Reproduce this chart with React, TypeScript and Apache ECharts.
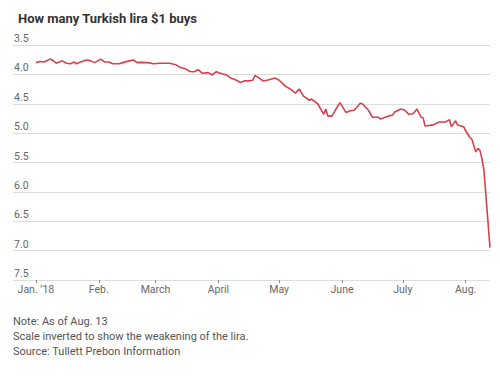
import React, { useEffect, useRef } from "react";
import * as echarts from "echarts";

const title = "How many Turkish lira $1 buys";
const notes = [
  "Note: As of Aug. 13",
  "Scale inverted to show the weakening of the lira.",
  "Source: Tullett Prebon Information",
];

const dates: string[] = [
  "2018-01-01", "2018-01-03", "2018-01-05", "2018-01-08", "2018-01-09", "2018-01-11",
  "2018-01-14", "2018-01-16", "2018-01-18", "2018-01-20", "2018-01-21", "2018-01-23",
  "2018-01-26", "2018-01-28", "2018-01-30", "2018-02-02", "2018-02-04", "2018-02-06",
  "2018-02-08", "2018-02-11", "2018-02-13", "2018-02-16", "2018-02-18", "2018-02-20",
  "2018-02-22", "2018-02-25", "2018-02-28", "2018-03-03", "2018-03-06", "2018-03-08",
  "2018-03-11", "2018-03-13", "2018-03-16", "2018-03-18", "2018-03-20", "2018-03-22",
  "2018-03-24", "2018-03-27", "2018-03-29", "2018-03-31", "2018-04-02", "2018-04-05",
  "2018-04-07", "2018-04-10", "2018-04-12", "2018-04-14", "2018-04-16", "2018-04-18",
  "2018-04-19", "2018-04-21", "2018-04-23", "2018-04-25", "2018-04-29", "2018-05-01",
  "2018-05-04", "2018-05-06", "2018-05-09", "2018-05-11", "2018-05-13", "2018-05-16",
  "2018-05-17", "2018-05-20", "2018-05-23", "2018-05-24", "2018-05-25", "2018-05-27",
  "2018-05-29", "2018-05-31", "2018-06-03", "2018-06-05", "2018-06-07", "2018-06-10",
  "2018-06-11", "2018-06-14", "2018-06-16", "2018-06-19", "2018-06-20", "2018-06-24",
  "2018-06-26", "2018-06-27", "2018-06-30", "2018-07-02", "2018-07-04", "2018-07-06",
  "2018-07-08", "2018-07-10", "2018-07-11", "2018-07-12", "2018-07-16", "2018-07-19",
  "2018-07-22", "2018-07-24", "2018-07-25", "2018-07-27", "2018-07-28", "2018-07-31",
  "2018-08-01", "2018-08-03", "2018-08-04", "2018-08-06", "2018-08-07", "2018-08-08",
  "2018-08-09", "2018-08-10", "2018-08-13",
];

const rates: number[] = [
  3.80, 3.78, 3.79, 3.74, 3.755, 3.81,
  3.77, 3.81, 3.82, 3.79, 3.82, 3.79,
  3.755, 3.77, 3.80, 3.74, 3.79, 3.79,
  3.82, 3.82, 3.80, 3.77, 3.755, 3.80,
  3.795, 3.80, 3.82, 3.81, 3.81, 3.81,
  3.835, 3.88, 3.91, 3.95, 3.955, 3.92,
  3.98, 3.97, 4.01, 3.955, 3.98, 4.01,
  4.06, 4.10, 4.14, 4.11, 4.11, 4.10,
  4.02, 4.06, 4.11, 4.10, 4.06, 4.10,
  4.20, 4.24, 4.32, 4.25, 4.37, 4.44,
  4.42, 4.50, 4.68, 4.59, 4.71, 4.71,
  4.59, 4.48, 4.65, 4.62, 4.61, 4.49,
  4.50, 4.61, 4.73, 4.73, 4.76, 4.71,
  4.69, 4.64, 4.59, 4.61, 4.68, 4.67,
  4.59, 4.73, 4.74, 4.88, 4.86, 4.81,
  4.81, 4.77, 4.89, 4.79, 4.86, 4.89,
  4.96, 5.07, 5.10, 5.32, 5.26, 5.29,
  5.43, 5.63, 6.95,
];

const monthTicks: string[] = [
  "2018-01-01", "2018-02-01", "2018-03-01", "2018-04-01",
  "2018-05-01", "2018-06-01", "2018-07-01", "2018-08-01",
];
const monthLabels: string[] = [
  "Jan. ’18", "Feb.", "March", "April", "May", "June", "July", "Aug.",
];

const yMin = 3.5;
const yMax = 7.5;
const yStep = 0.5;
const xStart = "2017-12-20";
const xEnd = "2018-08-13";

const DAY = 86400000;
const dayNum = (s: string) => {
  const [y, m, d] = s.split("-").map(Number);
  return Math.round((Date.UTC(y, m - 1, d) - Date.UTC(2018, 0, 1)) / DAY);
};

export default function App() {
  const ref = useRef<HTMLDivElement>(null);

  useEffect(() => {
    if (!ref.current) return;
    const chart = echarts.init(ref.current, undefined, { renderer: "svg" });
    const tickDays = monthTicks.map(dayNum);
    const labelMap = new Map<number, string>();
    tickDays.forEach((t, i) => labelMap.set(t, monthLabels[i]));
    const font = "Roboto, 'Noto Sans', sans-serif";

    chart.setOption({
      animation: false,
      backgroundColor: "#ffffff",
      title: {
        text: title,
        left: 13,
        top: 7,
        textStyle: { fontFamily: font, fontSize: 13, fontWeight: "bold", color: "#333333" },
      },
      grid: { left: 13, right: 10, top: 45, bottom: 97, containLabel: false },
      xAxis: {
        type: "value",
        min: dayNum(xStart) + 0.7,
        max: dayNum(xEnd),
        axisLine: { show: false },
        splitLine: { show: false },
        axisTick: {
          show: true,
          length: 3,
          customValues: tickDays,
          lineStyle: { color: "#888888", width: 1 },
        },
        axisLabel: {
          customValues: tickDays,
          formatter: (v: number) => labelMap.get(Math.round(v)) ?? "",
          fontFamily: font,
          fontSize: 10.5,
          color: "#666666",
          margin: 4,
        },
      },
      yAxis: {
        type: "value",
        inverse: true,
        min: yMin,
        max: yMax,
        interval: yStep,
        axisLine: { show: false },
        axisTick: { show: false },
        splitLine: { show: true, lineStyle: { color: "#dedede", width: 1 } },
        axisLabel: {
          inside: true,
          margin: 1,
          verticalAlign: "bottom",
          padding: [0, 0, 1, 0],
          fontFamily: font,
          fontSize: 10.5,
          color: "#666666",
          formatter: (v: number) => v.toFixed(1),
        },
      },
      series: [
        {
          type: "line",
          data: dates.map((d, i) => [dayNum(d), rates[i]]),
          showSymbol: false,
          symbol: "none",
          lineStyle: { color: "#d6414c", width: 1.6 },
        },
      ],
      graphic: notes.map((t, i) => ({
        type: "text",
        left: 13,
        top: 316 + i * 15,
        style: {
          text: t,
          fontFamily: font,
          fontSize: 11,
          fill: "#555555",
        },
      })),
    });

    return () => chart.dispose();
  }, []);

  return (
    <div
      ref={ref}
      style={{ position: "fixed", left: 0, top: 0, width: 500, height: 377 }}
    />
  );
}
